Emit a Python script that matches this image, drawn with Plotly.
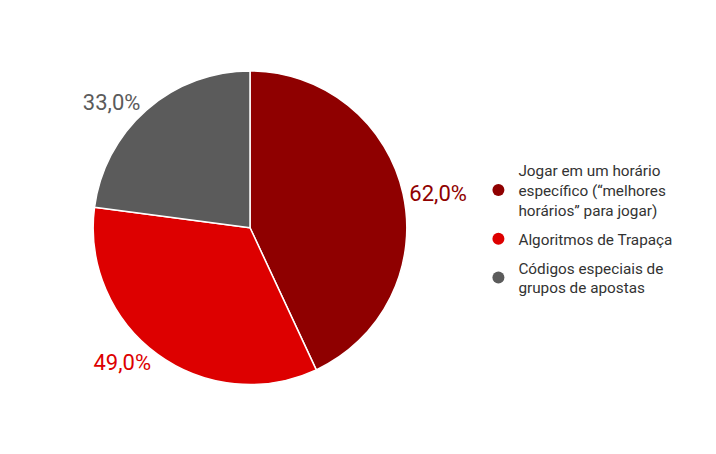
import plotly.graph_objects as go

labels = ["Jogar em um horário<br>específico (“melhores<br>horários” para jogar)",
          "Algoritmos de Trapaça",
          "Códigos especiais de<br>grupos de apostas"]
values = [62.0, 49.0, 33.0]
colors = ["#8f0000", "#dd0000", "#5b5b5b"]

fig = go.Figure()
fig.add_trace(go.Pie(
    labels=labels, values=values, sort=False, direction="clockwise", rotation=0,
    marker=dict(colors=colors, line=dict(color="white", width=1.5)),
    texttemplate="%{value:.1f}%", textposition="outside",
    textfont=dict(color=colors, size=22, family="Roboto"),
    outsidetextfont=dict(color=colors, size=22, family="Roboto"),
    showlegend=False, domain=dict(x=[0.119, 0.557], y=[0.170, 0.862]),
    hoverinfo="label+value",
))
for i, (lab, col) in enumerate(zip(labels, colors)):
    fig.add_trace(go.Scatter(x=[None], y=[None], mode="markers", name=lab,
                             legendgroup=f"g{i}",
                             marker=dict(color=col, size=15, symbol="circle")))

fig.update_layout(
    width=716, height=454, separators=",.",
    margin=dict(l=0, r=0, t=0, b=0),
    paper_bgcolor="white", plot_bgcolor="white",
    font=dict(family="Roboto", color="#333333"),
    xaxis=dict(visible=False), yaxis=dict(visible=False),
    legend=dict(x=0.657, y=0.513, xanchor="left", yanchor="middle",
                font=dict(size=15.3, color="#333333"), tracegroupgap=6,
                itemwidth=30, itemsizing="constant"),
)
fig.write_html("out.html")
